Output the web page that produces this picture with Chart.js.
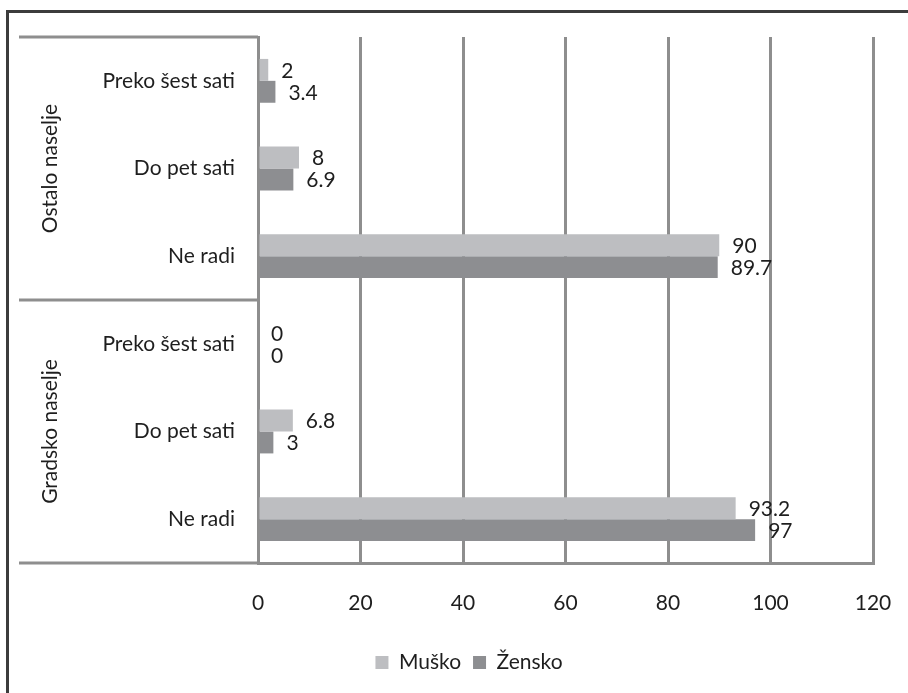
<!DOCTYPE html>
<html lang="hr">
<head>
<meta charset="UTF-8">
<title>Rad po naseljima</title>
<script src="https://cdn.jsdelivr.net/npm/chart.js"></script>
<style>
    body { margin: 0; background: #fff; }
    .wrap { position: absolute; left: 0; top: 0; width: 908px; height: 693px; }
    .frame {
        position: absolute; left: 6px; top: 10px; width: 920px; height: 700px;
        border-top: 3px solid #3c3c3c; border-left: 3px solid #3c3c3c;
        pointer-events: none;
    }
</style>
</head>
<body>
<div class="wrap">
    <canvas id="chart" width="908" height="693"></canvas>
    <div class="frame"></div>
</div>
<script>
// podaci
const kategorije = ['Preko šest sati', 'Do pet sati', 'Ne radi', 'Preko šest sati', 'Do pet sati', 'Ne radi'];
const grupe = ['Ostalo naselje', 'Gradsko naselje'];
const musko = [2, 8, 90, 0, 6.8, 93.2];
const zensko = [3.4, 6.9, 89.7, 0, 3, 97];
const xTicks = [0, 20, 40, 60, 80, 100, 120];

const FONT = 'Lato';
const lineCol = '#8e8e8e';

// vrijednosti desno od stupaca
const valueLabels = {
    id: 'valueLabels',
    afterDatasetsDraw(chart) {
        const ctx = chart.ctx;
        ctx.save();
        ctx.font = '21px ' + FONT;
        ctx.fillStyle = '#1e1e1e';
        ctx.textAlign = 'left';
        ctx.textBaseline = 'middle';
        chart.data.datasets.forEach((ds, i) => {
            chart.getDatasetMeta(i).data.forEach((bar, j) => {
                ctx.fillText(String(ds.data[j]), bar.x + 13, bar.y + 1);
            });
        });
        ctx.restore();
    }
};

// grupe na lijevoj strani (linije + okrenuti tekst)
const groupAxis = {
    id: 'groupAxis',
    afterDraw(chart) {
        const ctx = chart.ctx;
        const y = chart.scales.y;
        const x0 = 19, x1 = y.right;
        const step = (y.bottom - y.top) / kategorije.length;
        ctx.save();
        ctx.strokeStyle = lineCol;
        ctx.lineWidth = 3;
        const perGroup = kategorije.length / grupe.length;
        for (let g = 0; g <= grupe.length; g++) {
            const yy = y.top + g * perGroup * step;
            ctx.beginPath();
            ctx.moveTo(x0, yy);
            ctx.lineTo(x1, yy);
            ctx.stroke();
        }
        ctx.fillStyle = '#1e1e1e';
        ctx.font = '21px ' + FONT;
        ctx.textAlign = 'center';
        ctx.textBaseline = 'middle';
        grupe.forEach((g, i) => {
            const cy = y.top + (i + 0.5) * perGroup * step;
            ctx.save();
            ctx.translate(50, cy);
            ctx.rotate(-Math.PI / 2);
            ctx.fillText(g, 0, 0);
            ctx.restore();
        });
        ctx.restore();
    }
};

new Chart(document.getElementById('chart').getContext('2d'), {
    type: 'bar',
    data: {
        labels: kategorije,
        datasets: [{
            label: 'Muško',
            data: musko,
            backgroundColor: '#bdbec1',
            categoryPercentage: 0.5,
            barPercentage: 1.0
        }, {
            label: 'Žensko',
            data: zensko,
            backgroundColor: '#8d8e91',
            categoryPercentage: 0.5,
            barPercentage: 1.0
        }]
    },
    options: {
        indexAxis: 'y',
        responsive: false,
        animation: false,
        layout: { padding: { left: 30, right: 0, top: 37, bottom: 10 } },
        scales: {
            x: {
                min: 0, max: 120,
                afterBuildTicks: s => { s.ticks = xTicks.map(v => ({ value: v })); },
                grid: { color: lineCol, lineWidth: 3, drawTicks: false },
                border: { display: true, color: lineCol, width: 3 },
                ticks: { padding: 28, color: '#1e1e1e', font: { family: FONT, size: 21 } },
                afterFit: s => { s.height = 77; s.paddingLeft = 0; s.paddingRight = 0; }
            },
            y: {
                grid: { display: false, drawTicks: false },
                border: { display: true, color: lineCol, width: 3 },
                ticks: { padding: 23, color: '#1e1e1e', font: { family: FONT, size: 21 } },
                afterFit: s => { s.width = 228; }
            },
            yR: {
                type: 'linear',
                position: 'right',
                grid: { display: false, drawTicks: false },
                border: { display: false },
                ticks: { display: false },
                afterFit: s => { s.width = 35; }
            }
        },
        plugins: {
            legend: {
                position: 'bottom',
                labels: {
                    boxWidth: 13, boxHeight: 13, padding: 12,
                    color: '#1e1e1e',
                    font: { family: FONT, size: 21 }
                }
            },
            tooltip: { enabled: false }
        }
    },
    plugins: [valueLabels, groupAxis]
});
</script>
</body>
</html>
